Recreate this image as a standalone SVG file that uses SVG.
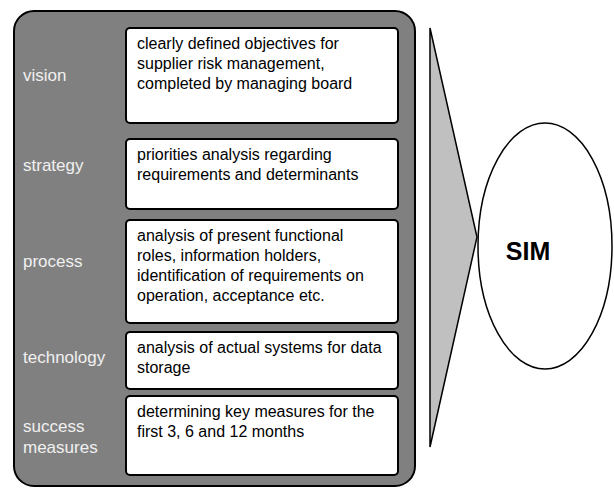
<svg xmlns="http://www.w3.org/2000/svg" width="614" height="488" viewBox="0 0 614 488">
<style>
.box{fill:#fff;stroke:#000;stroke-width:2}
.t{font-family:"Liberation Sans",Arial,sans-serif;font-size:16px;fill:#000}
.lbl{font-family:"Liberation Sans",Arial,sans-serif;font-size:17px;fill:#f0f0f0}
</style>
<rect id="frame" x="14" y="11" width="401" height="475" rx="20" fill="#808080" stroke="#000" stroke-width="2"/>
<g id="vision">
<text class="lbl" x="23" y="81">vision</text>
<rect class="box" x="126" y="28" width="272" height="95" rx="4"/>
<text class="t" x="137" y="49">clearly defined objectives for</text>
<text class="t" x="137" y="69">supplier risk management,</text>
<text class="t" x="137" y="89">completed by managing board</text>
</g>
<g id="strategy">
<text class="lbl" x="23" y="171">strategy</text>
<rect class="box" x="126" y="139" width="272" height="70" rx="4"/>
<text class="t" x="137" y="160">priorities analysis regarding</text>
<text class="t" x="137" y="180">requirements and determinants</text>
</g>
<g id="process">
<text class="lbl" x="23" y="267">process</text>
<rect class="box" x="126" y="220" width="272" height="103" rx="4"/>
<text class="t" x="137" y="241">analysis of present functional</text>
<text class="t" x="137" y="261">roles, information holders,</text>
<text class="t" x="137" y="281">identification of requirements on</text>
<text class="t" x="137" y="301">operation, acceptance etc.</text>
</g>
<g id="technology">
<text class="lbl" x="23" y="363">technology</text>
<rect class="box" x="126" y="332" width="272" height="57" rx="4"/>
<text class="t" x="137" y="353">analysis of actual systems for data</text>
<text class="t" x="137" y="373">storage</text>
</g>
<g id="success">
<text class="lbl" x="23" y="432">success</text>
<text class="lbl" x="23" y="453">measures</text>
<rect class="box" x="126" y="396" width="272" height="79" rx="4"/>
<text class="t" x="137" y="417">determining key measures for the</text>
<text class="t" x="137" y="437">first 3, 6 and 12 months</text>
</g>
<g id="connectors">
<polygon points="430,28 477,237 430,447" fill="#c0c0c0" stroke="#000" stroke-width="1.5" stroke-linejoin="miter"/>
</g>
<g id="sim">
<ellipse cx="545" cy="246" rx="67" ry="123" fill="none" stroke="#000" stroke-width="1.5"/>
<text x="528" y="260" text-anchor="middle" font-family="Liberation Sans,Arial,sans-serif" font-size="25" font-weight="bold">SIM</text>
</g>
</svg>
